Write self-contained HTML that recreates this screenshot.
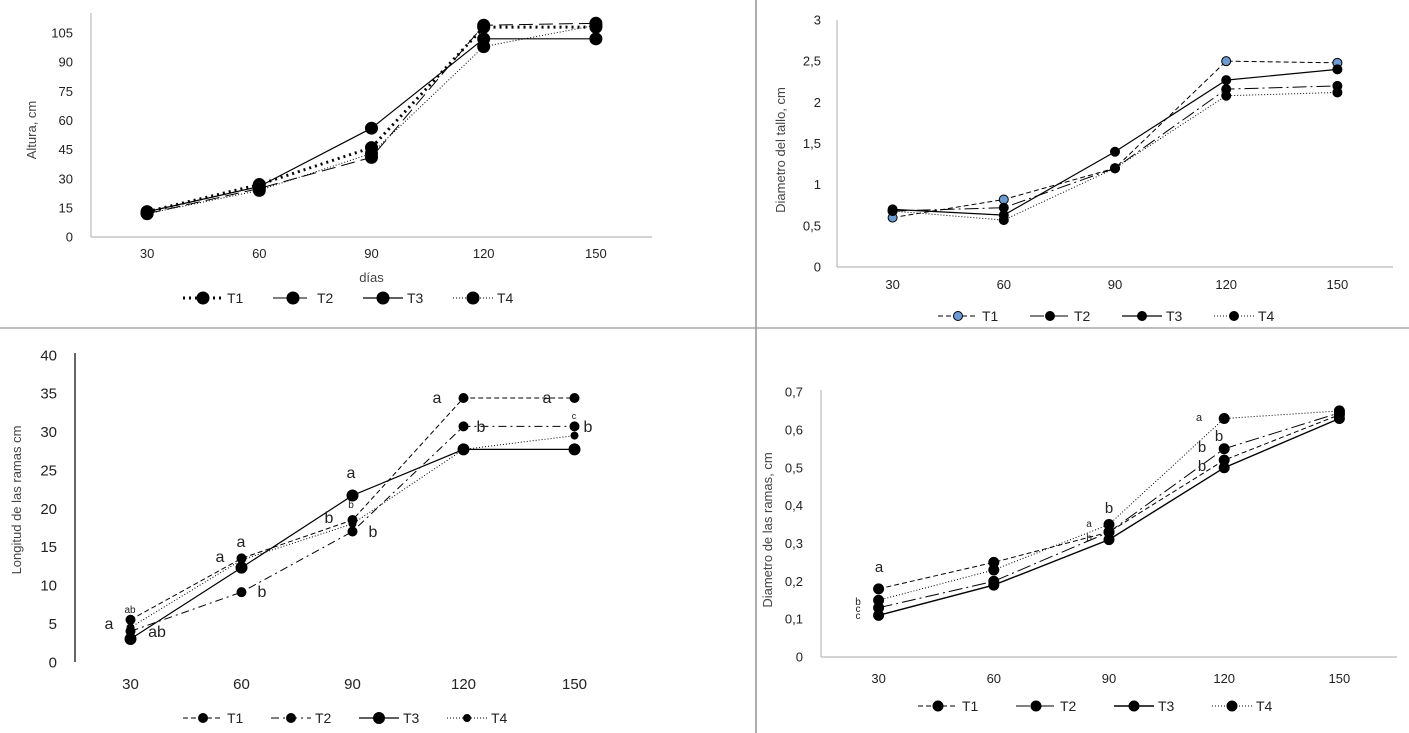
<!DOCTYPE html>
<html><head><meta charset="utf-8"><style>
html,body{margin:0;padding:0;background:#fff}
svg{display:block;font-family:"Liberation Sans",sans-serif}
</style></head><body>
<svg id="s" width="1409" height="733" viewBox="0 0 1409 733">
<line x1="756" y1="0" x2="756" y2="733" stroke="#777" stroke-width="1.2"/>
<line x1="0" y1="328" x2="1409" y2="328" stroke="#999" stroke-width="1.2"/>
</svg>
<script>
const categories = [30, 60, 90, 120, 150];
const c1T1 = [13, 27, 46, 108, 108];
const c1T2 = [12, 25, 41, 109, 110];
const c1T3 = [13, 26, 56, 102, 102];
const c1T4 = [12, 24, 43, 98, 109];
const c1Ticks = [0, 15, 30, 45, 60, 75, 90, 105];
const c2T1 = [0.6, 0.82, 1.2, 2.5, 2.48];
const c2T2 = [0.68, 0.72, 1.2, 2.16, 2.2];
const c2T3 = [0.7, 0.63, 1.4, 2.27, 2.4];
const c2T4 = [0.68, 0.57, 1.2, 2.08, 2.12];
const c2Ticks = ["0", "0,5", "1", "1,5", "2", "2,5", "3"];
const c3T1 = [5.5, 13.5, 18.5, 34.4, 34.4];
const c3T2 = [4, 9.1, 17, 30.7, 30.7];
const c3T3 = [3, 12.3, 21.7, 27.7, 27.7];
const c3T4 = [4.5, 13.3, 18, 27.7, 29.5];
const c3Ticks = [0, 5, 10, 15, 20, 25, 30, 35, 40];
const c4T1 = [0.18, 0.25, 0.33, 0.52, 0.64];
const c4T2 = [0.13, 0.2, 0.33, 0.55, 0.645];
const c4T3 = [0.11, 0.19, 0.31, 0.5, 0.63];
const c4T4 = [0.15, 0.23, 0.35, 0.63, 0.65];
const c4Ticks = ["0", "0,1", "0,2", "0,3", "0,4", "0,5", "0,6", "0,7"];
const seriesNames = ["T1", "T2", "T3", "T4"];

const NS = "http://www.w3.org/2000/svg";
const svg = document.getElementById("s");
function mk(tag, attrs, parent) {
  const e = document.createElementNS(NS, tag);
  for (const k in attrs) e.setAttribute(k, attrs[k]);
  (parent || svg).appendChild(e);
  return e;
}
function txt(x, y, s, size, anchor, parent, fill) {
  const t = mk("text", {x: x, y: y, "font-size": size, "text-anchor": anchor || "middle", fill: fill || "#222"}, parent);
  t.textContent = s;
  return t;
}

function chart(cfg) {
  const g = mk("g", {});
  
  
  const n = categories.length;
  const step = (cfg.x1 - cfg.x0) / n;
  const xs = i => cfg.x0 + step * (i + 0.5);
  const ys = v => cfg.yBottom - (v - cfg.vmin) / (cfg.vmax - cfg.vmin) * (cfg.yBottom - cfg.yTop);
  // axes
  const ya = mk("line", {x1: cfg.x0, y1: cfg.axisTop, x2: cfg.x0, y2: cfg.yBottom, stroke: cfg.axisColor, "stroke-width": 1.2}, g);
  
  
  if (cfg.xAxis) {
    const xa = mk("line", {x1: cfg.x0, y1: cfg.yBottom, x2: cfg.x1, y2: cfg.yBottom, stroke: "#bbb", "stroke-width": 1.2}, g);
    
    
  }
  cfg.ticks.forEach((t, i) => {
    const v = cfg.vmin + (cfg.vmax - cfg.vmin) * i / (cfg.ticks.length - 1);
    const e = txt(cfg.x0 - cfg.tickGap, ys(v) + cfg.tickSize * 0.35, t, cfg.tickSize, "end", g);
    
    
  });
  categories.forEach((c, i) => {
    const e = txt(xs(i), cfg.xLabelY, String(c), cfg.tickSize, "middle", g);
    
    
  });
  const yt = txt(0, 0, cfg.yTitle, 13, "middle", g, "#444");
  yt.setAttribute("transform", "translate(" + cfg.yTitleX + "," + cfg.yTitleY + ") rotate(-90)");
  
  
  if (cfg.xTitle) {
    const xt = txt((cfg.x0 + cfg.x1) / 2, cfg.xTitleY, cfg.xTitle, 13, "middle", g, "#444");
    
    
  }
  // series
  cfg.series.forEach((s, si) => {
    const pts = s.data.map((v, i) => xs(i) + "," + ys(v)).join(" ");
    const pl = mk("polyline", {points: pts, fill: "none", stroke: "#000", "stroke-width": s.w, "stroke-dasharray": s.dash}, g);
    
    
    s.data.forEach((v, i) => {
      const c = mk("circle", {cx: xs(i), cy: ys(v), r: s.r, fill: s.fill || "#000", stroke: "#000", "stroke-width": 1}, g);
      
      
    });
  });
  // legend
  const lg = mk("g", {}, g);
  
  
  let lx = cfg.legendX;
  cfg.series.forEach((s, si) => {
    const l = mk("line", {x1: lx, y1: cfg.legendY, x2: lx + 40, y2: cfg.legendY, stroke: "#000", "stroke-width": s.w, "stroke-dasharray": s.dash}, lg);
    
    
    const c = mk("circle", {cx: lx + 20, cy: cfg.legendY, r: s.r, fill: s.fill || "#000", stroke: "#000"}, lg);
    
    
    const t = txt(lx + 44, cfg.legendY + 5, seriesNames[si], 14, "start", lg);
    
    
    lx += cfg.legendStep;
  });
  (cfg.letters || []).forEach(L => {
    const t = txt(L[0], L[1], L[2], L[3], "middle", g);
    
    
  });
}

chart({name: "chart-altura", x0: 91, x1: 652, yTop: 33, yBottom: 237, axisTop: 13, vmin: 0, vmax: 105,
  ticks: c1Ticks, tickSize: 13, tickGap: 18, xLabelY: 258, axisColor: "#bbb", xAxis: true,
  yTitle: "Altura, cm", yTitleX: 36, yTitleY: 130, xTitle: "días", xTitleY: 282,
  legendX: 183, legendY: 298, legendStep: 90,
  series: [
    {data: c1T1, dash: "2,4", w: 3, r: 6},
    {data: c1T2, dash: "14,6", w: 1, r: 6},
    {data: c1T3, dash: "", w: 1.2, r: 6},
    {data: c1T4, dash: "1,2", w: 1, r: 6}
  ]});

chart({name: "chart-diametro-tallo", x0: 837, x1: 1393, yTop: 20, yBottom: 267, axisTop: 20, vmin: 0, vmax: 3,
  ticks: c2Ticks, tickSize: 13, tickGap: 16, xLabelY: 289, axisColor: "#bbb", xAxis: true,
  yTitle: "Diametro del tallo, cm", yTitleX: 785, yTitleY: 150,
  legendX: 938, legendY: 316, legendStep: 92,
  series: [
    {data: c2T1, dash: "5,3", w: 1, r: 4.5, fill: "#6b9bd1"},
    {data: c2T2, dash: "14,4,2,4", w: 1, r: 4.5},
    {data: c2T3, dash: "", w: 1.2, r: 4.5},
    {data: c2T4, dash: "1,2", w: 1, r: 4.5}
  ]});

chart({name: "chart-longitud-ramas", x0: 75, x1: 630, yTop: 355, yBottom: 662, axisTop: 353, vmin: 0, vmax: 40,
  ticks: c3Ticks, tickSize: 15, tickGap: 18, xLabelY: 689, axisColor: "#000", xAxis: false,
  yTitle: "Longitud de las ramas  cm", yTitleX: 21, yTitleY: 500,
  legendX: 183, legendY: 718, legendStep: 88,
  series: [
    {data: c3T1, dash: "5,3", w: 1, r: 4.5},
    {data: c3T2, dash: "8,4,2,4", w: 1, r: 4.5},
    {data: c3T3, dash: "", w: 1.2, r: 5.5},
    {data: c3T4, dash: "1,2", w: 1, r: 3.5}
  ],
  letters: [[109,629,"a",16],[157,637,"ab",16],[130,613,"ab",10],[220,562,"a",16],[241,547,"a",16],[262,597,"b",16],
    [351,478,"a",16],[329,523,"b",16],[351,508,"b",10],[373,537,"b",16],[437,403,"a",16],[481,432,"b",16],
    [547,403,"a",16],[574,419,"c",9],[588,432,"b",16]]});

chart({name: "chart-diametro-ramas", x0: 821, x1: 1397, yTop: 392, yBottom: 657, axisTop: 390, vmin: 0, vmax: 0.7,
  ticks: c4Ticks, tickSize: 13, tickGap: 18, xLabelY: 683, axisColor: "#bbb", xAxis: true,
  yTitle: "Diametro de las ramas, cm", yTitleX: 772, yTitleY: 530,
  legendX: 918, legendY: 706, legendStep: 98,
  series: [
    {data: c4T1, dash: "5,3", w: 1, r: 5},
    {data: c4T2, dash: "14,4,2,4", w: 1, r: 5},
    {data: c4T3, dash: "", w: 1.4, r: 5},
    {data: c4T4, dash: "1,2", w: 1, r: 5}
  ],
  letters: [[879,572,"a",15],[858,605,"b",10],[858,612,"c",10],[858,619,"c",10],[1109,513,"b",15],[1089,527,"a",10],
    [1089,541,"b",10],[1199,421,"a",11],[1219,441,"b",15],[1202,452,"b",15],[1202,471,"b",15]]});
</script>
</body></html>
